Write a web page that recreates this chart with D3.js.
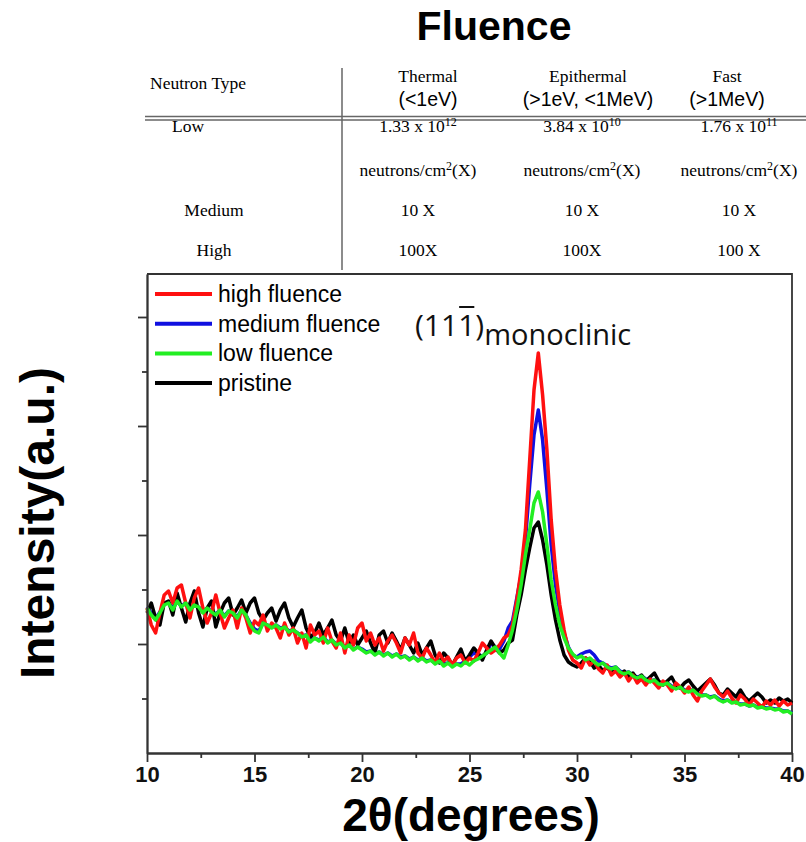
<!DOCTYPE html>
<html>
<head>
<meta charset="utf-8">
<script src="https://cdn.jsdelivr.net/npm/d3@7"></script>
<style>
  body { margin: 0; background: #fff; }
  svg { display: block; }
</style>
</head>
<body>
<div id="chart"></div>
<script>
// ---- data ----
// scan grid: 2theta 10..40 deg, step 0.2 deg
var twoTheta = d3.range(0, 151).map(function(i) { return +(10 + i * 0.2).toFixed(1); });

var highFluence = [
  145,128,120,140,158,162,150,165,168,150,
  135,155,165,145,130,140,158,140,125,135,
  143,125,145,135,120,132,128,138,122,130,
  125,115,130,118,125,110,120,105,128,118,
  122,110,125,112,105,120,100,118,108,125,
  130,112,120,108,115,102,112,118,110,100,
  115,108,120,100,95,105,98,90,100,92,
  96,88,95,98,90,95,92,100,110,105,
  100,103,108,115,118,128,153,183,223,293,
  363,400,358,303,233,183,148,123,103,93,
  90,85,95,88,92,84,80,88,78,82,
  76,80,72,78,70,74,68,74,70,65,
  72,68,62,70,66,60,66,58,52,62,
  68,74,66,60,56,62,55,50,58,54,
  48,54,50,46,52,48,53,47,52,48,
  50];

var mediumFluence = [
  146,140,134,141,149,151,145,152,147,150,
  144,148,146,141,145,142,139,143,137,142,
  140,136,143,138,130,124,122,130,128,126,
  128,125,126,122,123,120,117,118,113,115,
  113,116,111,113,109,110,106,108,104,106,
  104,101,102,99,101,98,100,97,99,96,
  97,94,96,93,95,92,93,90,92,89,
  90,88,89,89,92,96,100,98,97,100,
  110,106,104,112,125,132,155,178,213,268,
  318,343,313,263,208,168,141,120,106,98,
  96,99,101,102,98,92,90,87,85,86,
  82,80,81,78,76,77,74,72,73,70,
  69,70,67,65,66,63,62,63,60,58,
  58,56,57,54,52,53,51,51,49,49,
  47,48,46,46,45,45,44,44,42,42,
  40];

var lowFluence = [
  145,138,133,140,148,150,143,152,146,150,
  143,148,146,140,145,141,138,143,136,142,
  140,135,143,138,128,122,120,130,128,125,
  128,124,126,121,123,120,116,118,111,115,
  112,116,110,113,108,110,105,108,103,106,
  103,100,102,98,101,97,100,96,99,95,
  97,93,96,92,95,91,93,89,92,87,
  90,86,89,87,91,88,92,94,97,100,
  103,106,100,95,108,123,143,168,198,223,
  250,261,241,208,173,148,128,115,105,99,
  95,97,93,95,91,88,90,86,84,86,
  81,79,81,77,75,77,73,71,73,69,
  68,70,66,64,66,62,61,63,59,57,
  58,55,57,53,51,53,50,51,48,49,
  47,48,45,46,44,45,43,44,41,42,
  39];

var pristine = [
  140,150,135,128,150,152,138,160,145,131,
  150,162,140,126,145,152,126,140,150,155,
  138,145,153,140,150,155,140,133,140,145,
  132,143,150,135,126,135,143,125,116,120,
  130,118,125,133,118,112,125,110,118,108,
  115,122,110,100,118,122,110,120,112,103,
  115,108,100,110,98,105,112,98,90,100,
  95,88,96,104,92,98,105,100,93,103,
  112,105,100,103,110,113,138,158,183,205,
  225,231,213,188,158,133,113,98,91,88,
  86,90,95,92,85,88,82,86,80,84,
  78,82,76,80,74,78,72,76,80,72,
  68,72,76,68,65,70,73,67,62,66,
  70,74,68,60,58,64,60,56,63,56,
  52,56,60,56,50,53,50,55,52,54,
  50];

var seriesNames = ["high fluence", "medium fluence", "low fluence", "pristine"];
var seriesData = [highFluence, mediumFluence, lowFluence, pristine];

var xMajorTicks = [10, 15, 20, 25, 30, 35, 40];
var xMinorTicks = [12.5, 17.5, 22.5, 27.5, 32.5, 37.5];
var yMajorTicks = [109, 218, 327, 436];
var yMinorTicks = [54.5, 163.5, 272.5, 381.5];

// fluence table
var tableTitle = "Fluence";
var neutronTypes = ["Thermal", "Epithermal", "Fast"];
var energyRanges = ["(<1eV)", "(>1eV, <1MeV)", "(>1MeV)"];
var lowMantissa = ["1.33 x 10", "3.84 x 10", "1.76 x 10"];
var lowExponent = ["12", "10", "11"];
var mediumRow = ["10 X", "10 X", "10 X"];
var highRow = ["100X", "100X", "100 X"];

// ---- styles / layout ----
var colors = {"high fluence": "#ff1010", "medium fluence": "#1010e0", "low fluence": "#22ee22", "pristine": "#000"};
var drawOrder = ["medium fluence", "pristine", "high fluence", "low fluence"];

var W = 806, H = 842;
var margin = {top: 274, right: 14, bottom: 89, left: 147};
var width = W - margin.left - margin.right;
var height = H - margin.top - margin.bottom;

var svg = d3.select("#chart").append("svg")
  .attr("width", W)
  .attr("height", H);

// ---- table ----
var serif = "'Liberation Serif', 'Times New Roman', serif";
var sans = "'Liberation Sans', Arial, sans-serif";
var cellSize = "17.5px";

svg.append("text")
  .attr("x", 494).attr("y", 40)
  .attr("text-anchor", "middle")
  .attr("font-family", sans)
  .attr("font-weight", 700)
  .attr("font-size", "41px")
  .text(tableTitle);

svg.append("line")
  .attr("x1", 342).attr("x2", 342).attr("y1", 68).attr("y2", 270)
  .attr("stroke", "#666").attr("stroke-width", 1.5);
svg.append("line")
  .attr("x1", 145).attr("x2", 806).attr("y1", 116.5).attr("y2", 116.5)
  .attr("stroke", "#666").attr("stroke-width", 1.3);
svg.append("line")
  .attr("x1", 145).attr("x2", 806).attr("y1", 120).attr("y2", 120)
  .attr("stroke", "#666").attr("stroke-width", 1.3);

svg.append("text")
  .attr("x", 150).attr("y", 89)
  .attr("font-family", serif).attr("font-size", cellSize)
  .text("Neutron Type");

var headX = [428, 588, 727];
var dataX = [418, 582, 739];

neutronTypes.forEach(function(t, i) {
  svg.append("text")
    .attr("x", headX[i]).attr("y", 82)
    .attr("text-anchor", "middle")
    .attr("font-family", serif).attr("font-size", cellSize)
    .text(t);
  svg.append("text")
    .attr("x", headX[i]).attr("y", 106)
    .attr("text-anchor", "middle")
    .attr("font-family", sans).attr("font-size", "19.5px")
    .text(energyRanges[i]);

  var low = svg.append("text")
    .attr("x", dataX[i]).attr("y", 132)
    .attr("text-anchor", "middle")
    .attr("font-family", serif).attr("font-size", cellSize);
  low.append("tspan").text(lowMantissa[i]);
  low.append("tspan").attr("dy", -6).attr("font-size", "12px").text(lowExponent[i]);

  var unit = svg.append("text")
    .attr("x", dataX[i]).attr("y", 176)
    .attr("text-anchor", "middle")
    .attr("font-family", serif).attr("font-size", cellSize);
  unit.append("tspan").text("neutrons/cm");
  unit.append("tspan").attr("dy", -6).attr("font-size", "12px").text("2");
  unit.append("tspan").attr("dy", 6).text("(X)");

  svg.append("text")
    .attr("x", dataX[i]).attr("y", 216)
    .attr("text-anchor", "middle")
    .attr("font-family", serif).attr("font-size", cellSize)
    .text(mediumRow[i]);
  svg.append("text")
    .attr("x", dataX[i]).attr("y", 256)
    .attr("text-anchor", "middle")
    .attr("font-family", serif).attr("font-size", cellSize)
    .text(highRow[i]);
});

svg.append("text").attr("x", 188).attr("y", 132).attr("text-anchor", "middle")
  .attr("font-family", serif).attr("font-size", cellSize).text("Low");
svg.append("text").attr("x", 214).attr("y", 216).attr("text-anchor", "middle")
  .attr("font-family", serif).attr("font-size", cellSize).text("Medium");
svg.append("text").attr("x", 214).attr("y", 256).attr("text-anchor", "middle")
  .attr("font-family", serif).attr("font-size", cellSize).text("High");

// ---- plot ----
var g = svg.append("g")
  .attr("transform", "translate(" + margin.left + "," + margin.top + ")");

var x = d3.scaleLinear().domain([10, 40]).range([0, width]);
var y = d3.scaleLinear().domain([0, 479]).range([height, 0]);

// frame top + right
g.append("path")
  .attr("d", "M0,0H" + width + "V" + height)
  .attr("fill", "none").attr("stroke", "#333").attr("stroke-width", 1.8);

var line = d3.line()
  .x(function(d, i) { return x(twoTheta[i]); })
  .y(function(d) { return y(d); });

drawOrder.forEach(function(name) {
  var idx = seriesNames.indexOf(name);
  g.append("path")
    .datum(seriesData[idx])
    .attr("fill", "none")
    .attr("stroke", colors[name])
    .attr("stroke-width", 3.5)
    .attr("stroke-linejoin", "round")
    .attr("d", line);
});

// x axis
var xAxis = g.append("g")
  .attr("transform", "translate(0," + height + ")")
  .call(d3.axisBottom(x).tickValues(xMajorTicks).tickSize(9).tickSizeOuter(0).tickPadding(4));
xAxis.selectAll("text")
  .attr("font-family", sans).attr("font-weight", 700).attr("font-size", "22px").attr("fill", "#111");
g.append("g")
  .attr("transform", "translate(0," + height + ")")
  .call(d3.axisBottom(x).tickValues(xMinorTicks).tickSize(5).tickSizeOuter(0).tickFormat(""));

// y axis
g.append("g")
  .call(d3.axisLeft(y).tickValues(yMajorTicks).tickSize(9).tickSizeOuter(0).tickFormat(""));
g.append("g")
  .call(d3.axisLeft(y).tickValues(yMinorTicks).tickSize(5).tickSizeOuter(0).tickFormat(""));

g.selectAll(".domain, .tick line").attr("stroke", "#333").attr("stroke-width", 1.8);

// axis titles
svg.append("text")
  .attr("transform", "translate(54,523) rotate(-90)")
  .attr("text-anchor", "middle")
  .attr("font-family", sans).attr("font-weight", 700).attr("font-size", "48px")
  .text("Intensity(a.u.)");

svg.append("text")
  .attr("x", 471).attr("y", 831)
  .attr("text-anchor", "middle")
  .attr("font-family", sans).attr("font-weight", 700).attr("font-size", "46px")
  .text("2θ(degrees)");

// legend
var legend = g.append("g").attr("transform", "translate(8,20)");
seriesNames.forEach(function(name, i) {
  var row = legend.append("g").attr("transform", "translate(0," + (i * 29.7) + ")");
  row.append("line")
    .attr("x1", 0).attr("x2", 57).attr("y1", 0).attr("y2", 0)
    .attr("stroke", colors[name]).attr("stroke-width", 4);
  row.append("text")
    .attr("x", 63).attr("y", 8)
    .attr("font-family", sans).attr("font-size", "23px")
    .text(name);
});

// peak annotation (11-1)monoclinic
var ann = svg.append("text")
  .attr("x", 415).attr("y", 336)
  .attr("font-family", "'Open Sans', 'Noto Sans', sans-serif")
  .attr("font-size", "30px")
  .attr("fill", "#111");
ann.append("tspan").text("(111)");
ann.append("tspan").attr("dy", 9).attr("font-size", "29px").text("monoclinic");
var bar = ann.node().getExtentOfChar(3);
svg.append("line")
  .attr("x1", bar.x + 1).attr("x2", bar.x + bar.width - 1)
  .attr("y1", bar.y + 3).attr("y2", bar.y + 3)
  .attr("stroke", "#111").attr("stroke-width", 2);
</script>
</body>
</html>
